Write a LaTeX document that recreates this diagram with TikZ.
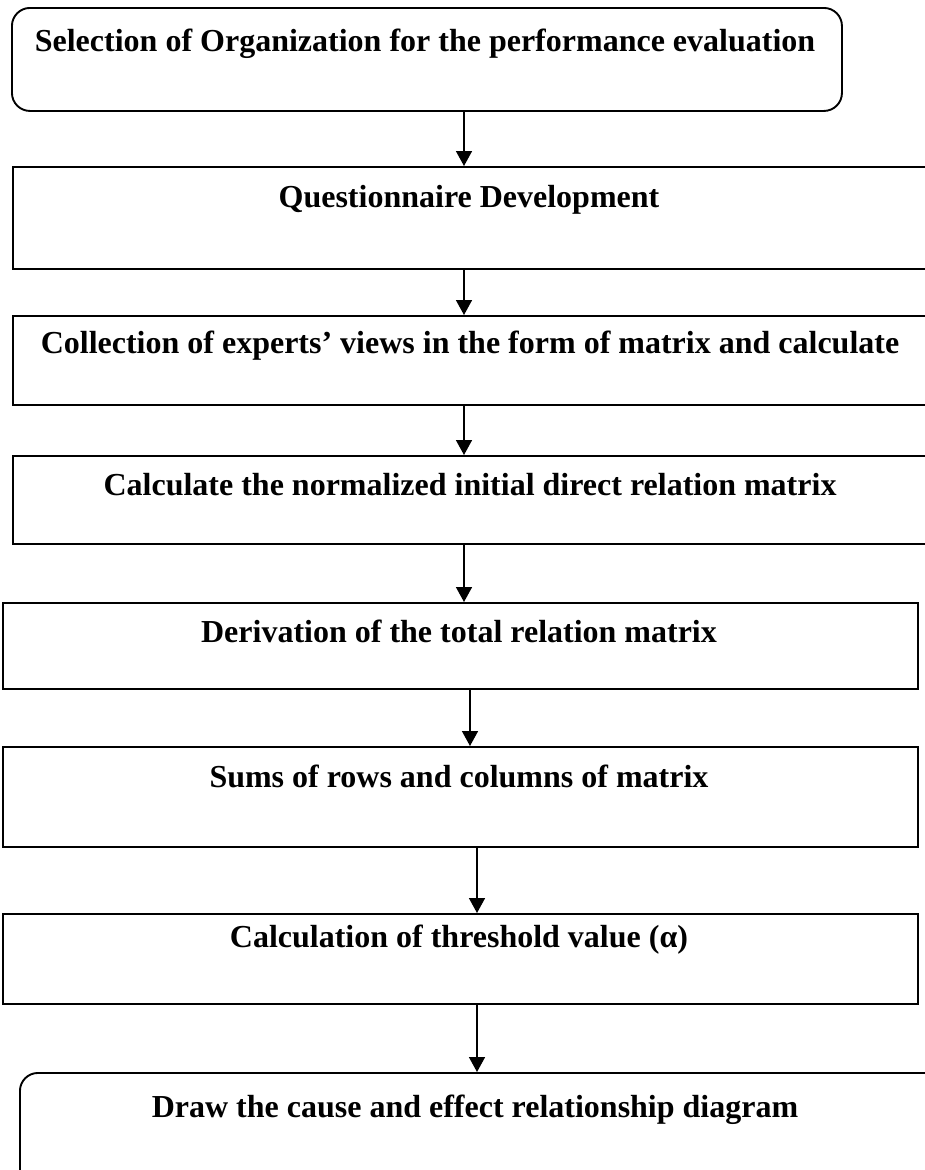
\documentclass[tikz,border=0pt]{standalone}
\usepackage{fontspec}
\setmainfont{Liberation Serif}
\usetikzlibrary{arrows.meta}
\begin{document}
\begin{tikzpicture}[x=1pt,y=-1pt,
  box/.style={draw, line width=1.9pt, inner sep=0pt, anchor=north west},
  roundbox/.style={box, rounded corners=18pt},
  lbl/.style={anchor=base, inner sep=0pt, font=\fontsize{32}{38}\selectfont\bfseries},
  arr/.style={line width=1.6pt, -{Triangle[width=16pt,length=15pt]}}]
\useasboundingbox (0,0) rectangle (925,1170);
\clip (0,0) rectangle (925,1170);
% process boxes
\node[roundbox, minimum width=830pt, minimum height=103pt] (b1) at (11,7) {};
\node[box, minimum width=930pt, minimum height=102pt] (b2) at (12,166) {};
\node[box, minimum width=930pt, minimum height=89pt] (b3) at (12,315) {};
\node[box, minimum width=930pt, minimum height=88pt] (b4) at (12,455) {};
\node[box, minimum width=915pt, minimum height=86pt] (b5) at (2,602) {};
\node[box, minimum width=915pt, minimum height=100pt] (b6) at (2,746) {};
\node[box, minimum width=915pt, minimum height=90pt] (b7) at (2,913) {};
\node[roundbox, minimum width=930pt, minimum height=120pt] (b8) at (19,1072) {};
% step labels
\node[lbl] (t1) at (425,51) {Selection of Organization for the performance evaluation};
\node[lbl] (t2) at (469,207) {Questionnaire Development};
\node[lbl] (t3) at (470,353) {Collection of experts’ views in the form of matrix and calculate};
\node[lbl] (t4) at (470,495) {Calculate the normalized initial direct relation matrix};
\node[lbl] (t5) at (459,642) {Derivation of the total relation matrix};
\node[lbl] (t6) at (459,787) {Sums of rows and columns of matrix};
\node[lbl] (t7) at (459,947) {Calculation of threshold value (α)};
\node[lbl] (t8) at (475,1117) {Draw the cause and effect relationship diagram};
% flow arrows
\draw[arr] (464,0 |- b1.south) -- (464,0 |- b2.north);
\draw[arr] (464,0 |- b2.south) -- (464,0 |- b3.north);
\draw[arr] (464,0 |- b3.south) -- (464,0 |- b4.north);
\draw[arr] (464,0 |- b4.south) -- (464,0 |- b5.north);
\draw[arr] (470,0 |- b5.south) -- (470,0 |- b6.north);
\draw[arr] (477,0 |- b6.south) -- (477,0 |- b7.north);
\draw[arr] (477,0 |- b7.south) -- (477,0 |- b8.north);
\end{tikzpicture}
\end{document}
